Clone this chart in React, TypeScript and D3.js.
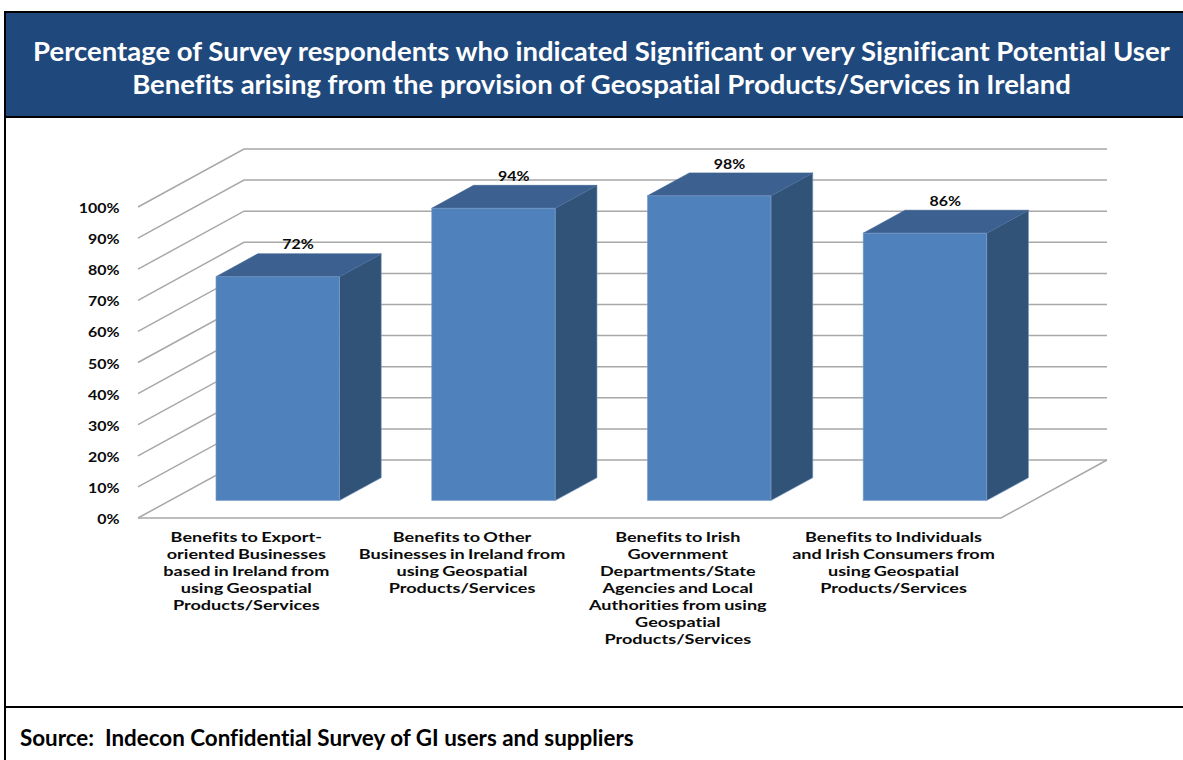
import React from "react";
import * as d3 from "d3";

const categories = [
  ["Benefits to Export-", "oriented Businesses", "based in Ireland from", "using Geospatial", "Products/Services"],
  ["Benefits to Other", "Businesses in Ireland from", "using Geospatial", "Products/Services"],
  ["Benefits to Irish", "Government", "Departments/State", "Agencies and Local", "Authorities from using", "Geospatial", "Products/Services"],
  ["Benefits to Individuals", "and Irish Consumers from", "using Geospatial", "Products/Services"],
];
const values = [72, 94, 98, 86];
const ticks = [0, 10, 20, 30, 40, 50, 60, 70, 80, 90, 100];
const titleLines = [
  "Percentage of Survey respondents who indicated Significant or very Significant Potential User",
  "Benefits arising from the provision of Geospatial Products/Services in Ireland",
];
const sourceText = "Source:  Indecon Confidential Survey of GI users and suppliers";

const W = 1183;
const H = 760;

// Oblique projection of the 3D plot box: depth 0 is the front edge, 1 the back wall.
const DEPTH_X = 106;
const DEPTH_Y = -58;
const BAR_NEAR = 0.3;
const BAR_FAR = 0.695;

const xScale = d3
  .scaleBand<number>()
  .domain(d3.range(values.length))
  .range([138, 1001])
  .paddingInner(0.428)
  .paddingOuter(0.214);
const yScale = d3.scaleLinear().domain([0, 100]).range([518, 207]);

const project = (x: number, v: number, depth: number): [number, number] => [
  x + depth * DEPTH_X,
  yScale(v) + depth * DEPTH_Y,
];
const poly = d3.line();

const GRID = "#a8a8a8";
const FRONT = "#4f81bd";
const TOP = "#3c6190";
const SIDE = "#325378";
const EDGE = "#7b9cc6";
const HEAD_FONT = "Lato, sans-serif";

// Small chart labels are set in a horizontally widened bold face.
function ChartLabel({
  x,
  y,
  anchor,
  stretch,
  children,
}: {
  x: number;
  y: number;
  anchor: "middle" | "end";
  stretch: number;
  children: React.ReactNode;
}) {
  return (
    <text
      transform={`translate(${x},${y}) scale(${stretch},1)`}
      dy="0.35em"
      textAnchor={anchor}
      fontFamily={HEAD_FONT}
      fontWeight={700}
      fontSize={13.5}
      wordSpacing={-0.8}
      fill="#0a0a0a"
      style={{ fontVariantLigatures: "none" }}
    >
      {children}
    </text>
  );
}

export default function App() {
  const [x0, x1] = xScale.range();
  return (
    <svg
      width={W}
      height={H}
      viewBox={`0 0 ${W} ${H}`}
      style={{ position: "absolute", left: 0, top: 0, background: "#fff" }}
    >
      <rect x={5} y={12} width={W} height={104.5} fill="#1f497d" />
      <line x1={5} x2={5} y1={11} y2={H} stroke="#000" strokeWidth={2} />
      <line x1={4} x2={W} y1={12} y2={12} stroke="#000" strokeWidth={2} />
      <line x1={4} x2={W} y1={117} y2={117} stroke="#000" strokeWidth={2} />
      <line x1={4} x2={W} y1={707} y2={707} stroke="#000" strokeWidth={2} />

      {titleLines.map((t, i) => (
        <text
          key={t}
          x={601.5}
          y={60.5 + i * 33.5}
          textAnchor="middle"
          fontFamily={HEAD_FONT}
          fontWeight={700}
          fontSize={27.5}
          fill="#fff"
          style={{ fontVariantLigatures: "none" }}
        >
          {t}
        </text>
      ))}

      {/* Side wall and back wall gridlines, floor outline */}
      {ticks.map((t) => (
        <path
          key={t}
          d={poly([project(x0, t, 0), project(x0, t, 1), project(x1, t, 1)]) ?? ""}
          fill="none"
          stroke={GRID}
          strokeWidth={1.5}
        />
      ))}
      <path
        d={poly([project(x0, 0, 0), project(x1, 0, 0), project(x1, 0, 1)]) ?? ""}
        fill="none"
        stroke={GRID}
        strokeWidth={1.5}
      />

      {ticks.map((t) => (
        <ChartLabel key={t} x={119.5} y={yScale(t) + 1.3} anchor="end" stretch={1.18}>
          {t}%
        </ChartLabel>
      ))}

      {values.map((v, i) => {
        const a = xScale(i) as number;
        const b = a + xScale.bandwidth();
        const front = [project(a, v, BAR_NEAR), project(b, v, BAR_NEAR), project(b, 0, BAR_NEAR), project(a, 0, BAR_NEAR)] as [number, number][];
        const top = [project(a, v, BAR_NEAR), project(a, v, BAR_FAR), project(b, v, BAR_FAR), project(b, v, BAR_NEAR)] as [number, number][];
        const side = [project(b, v, BAR_NEAR), project(b, v, BAR_FAR), project(b, 0, BAR_FAR), project(b, 0, BAR_NEAR)] as [number, number][];
        const [lx, ly] = project((a + b) / 2, v, BAR_FAR);
        return (
          <g key={i}>
            <path d={(poly(side) ?? "") + "Z"} fill={SIDE} stroke={EDGE} strokeWidth={0.6} />
            <path d={(poly(top) ?? "") + "Z"} fill={TOP} stroke={TOP} strokeWidth={0.6} />
            <path d={(poly(front) ?? "") + "Z"} fill={FRONT} stroke={EDGE} strokeWidth={0.6} />
            <ChartLabel x={lx - 21.5} y={ly - 9} anchor="middle" stretch={1.18}>
              {v}%
            </ChartLabel>
          </g>
        );
      })}

      {categories.map((lines, i) => (
        <g key={i}>
          {lines.map((l, j) => (
            <ChartLabel
              key={j}
              x={(xScale(i) as number) + xScale.bandwidth() / 2 + 0.4}
              y={537.2 + j * 17}
              anchor="middle"
              stretch={1.34}
            >
              {l}
            </ChartLabel>
          ))}
        </g>
      ))}

      <text
        x={20}
        y={746}
        fontFamily={HEAD_FONT}
        fontWeight={700}
        fontSize={22.4}
        fill="#000"
        style={{ whiteSpace: "pre", fontVariantLigatures: "none" }}
      >
        {sourceText}
      </text>
    </svg>
  );
}
